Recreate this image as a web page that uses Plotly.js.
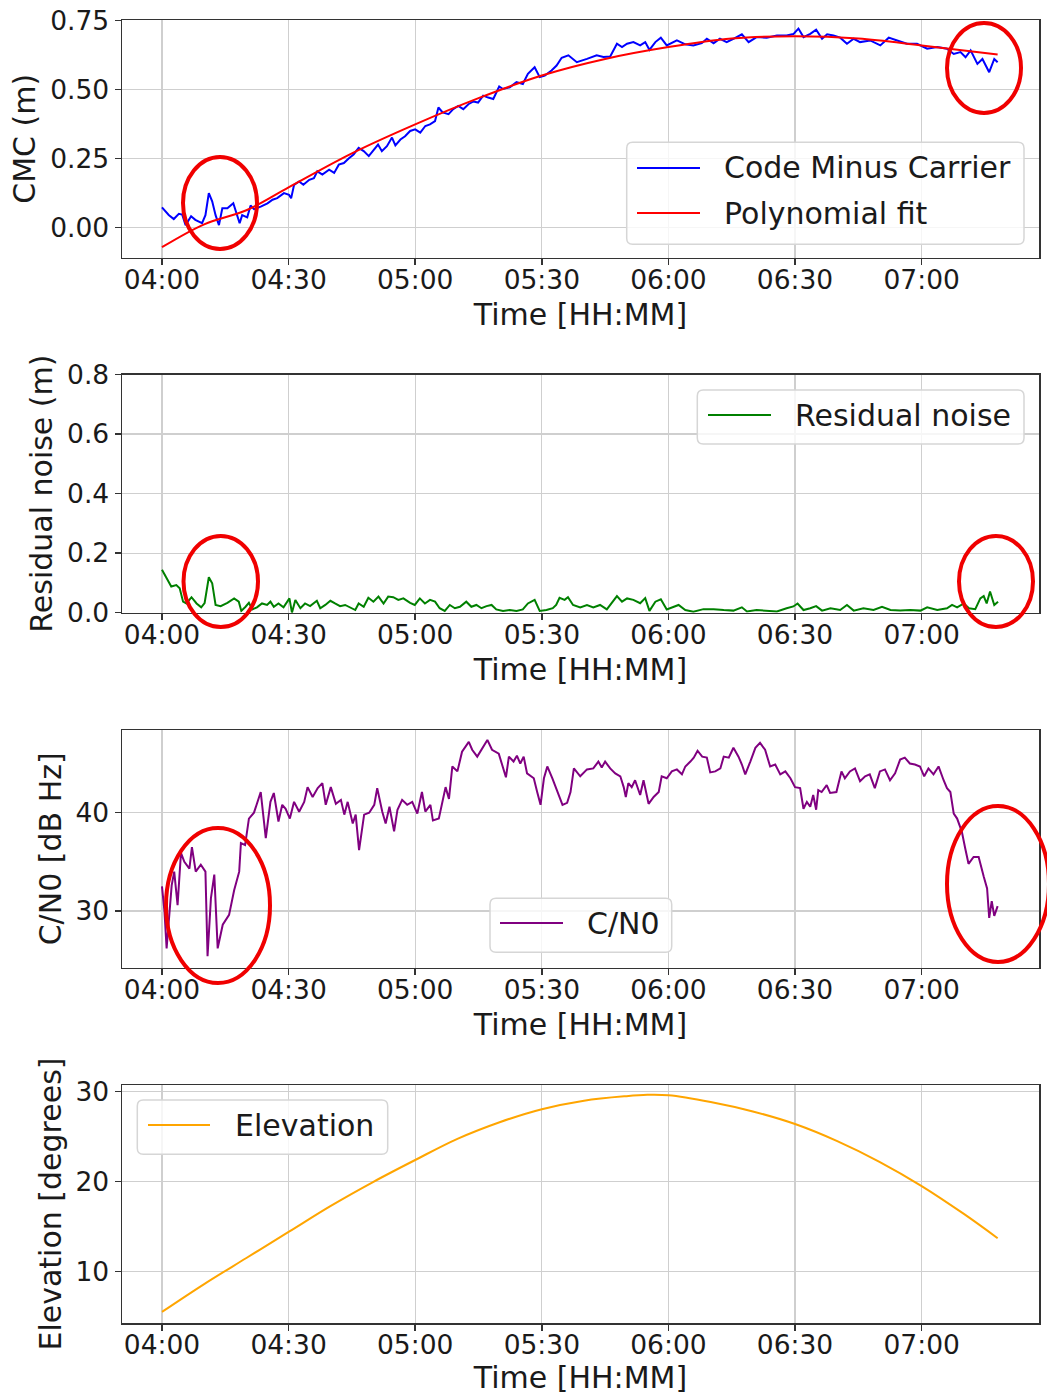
<!DOCTYPE html>
<html><head><meta charset="utf-8">
<script src="https://cdn.plot.ly/plotly-3.0.1.min.js"></script>
<style>body{margin:0;background:#fff}#chart{width:1047px;height:1395px}</style>
</head><body><div id="chart"></div>
<script>
// time in minutes after 04:00
const tickVals = [0, 30, 60, 90, 120, 150, 180];
const tickText = ['04:00', '04:30', '05:00', '05:30', '06:00', '06:30', '07:00'];

const cmcT = [0,1.6,2.8,4,4.8,5.6,6.9,7.9,9.5,10.3,11.1,11.9,12.7,13.5,14.3,15.5,16.9,17.5,18.4,19,20.2,21,21.8,23.4,25,26.2,27.3,28.9,30.1,30.6,31.3,32.5,33.5,34.9,36,36.8,38,39.6,40.8,41.9,43.1,44.3,45.4,46.6,47.8,49,50.2,51.2,52.1,53.3,54.5,55.3,56.5,57.6,58.8,60,61.2,62.4,63.5,64.7,65.5,66.5,67.9,69,70.2,71.4,72.6,73.8,74.9,76.1,77.3,78.5,79.9,80.8,82.4,84,85.5,86.7,88.3,89.5,90.7,92.3,93.5,94.7,96.3,98.3,100.7,103,104.6,106.2,107.8,109,110.2,111.7,113.3,114.5,115.5,116.9,118.2,119.6,122,124,125.9,127.9,129.1,130.7,132.2,133.8,135.4,137.4,139,140.9,143.3,145.7,148,149.6,150.8,152,153.6,155,156.4,157.6,159.1,160.7,162.3,163.9,165.4,167.8,170.2,172.2,174.2,176.5,178.9,181.3,183.7,186,187.6,189.2,190.4,191.6,193.2,194.4,196,197.2,198];
const cmcV = [0.072,0.045,0.03,0.049,0.046,0.008,0.04,0.027,0.015,0.044,0.124,0.094,0.044,0.008,0.069,0.069,0.087,0.057,0.015,0.044,0.036,0.079,0.066,0.075,0.087,0.1,0.106,0.124,0.118,0.105,0.154,0.166,0.154,0.172,0.178,0.203,0.191,0.209,0.197,0.227,0.233,0.25,0.264,0.288,0.276,0.258,0.282,0.3,0.276,0.294,0.325,0.297,0.318,0.33,0.349,0.355,0.343,0.367,0.373,0.385,0.434,0.416,0.41,0.428,0.44,0.428,0.446,0.456,0.452,0.477,0.47,0.465,0.51,0.501,0.507,0.526,0.519,0.556,0.58,0.544,0.55,0.568,0.586,0.614,0.623,0.598,0.61,0.623,0.617,0.619,0.665,0.653,0.665,0.671,0.659,0.671,0.643,0.671,0.687,0.659,0.677,0.663,0.659,0.667,0.683,0.667,0.683,0.671,0.683,0.699,0.671,0.689,0.687,0.695,0.695,0.7,0.72,0.689,0.701,0.716,0.683,0.699,0.695,0.687,0.665,0.683,0.671,0.677,0.659,0.687,0.677,0.665,0.665,0.647,0.653,0.647,0.628,0.635,0.616,0.641,0.592,0.61,0.562,0.61,0.598];

const fitT = [0,10,20,30,45,60,75,90,105,120,135,150,165,180,198];
const fitV = [-0.072,0.011,0.062,0.145,0.268,0.373,0.468,0.55,0.61,0.653,0.684,0.692,0.684,0.659,0.626];

const resT = [0,1,2.2,3.4,4.2,5,5.8,7,8.2,9.3,10.1,11.1,11.9,12.7,13.9,15.5,17.1,18.2,18.8,19.8,20.6,21.4,22.5,23.7,24.9,25.7,26.5,27.6,28.8,30.2,30.8,31.6,32.8,33.9,35.1,36.7,37.5,38.7,39.9,41,42.2,43.4,44.6,45.8,46.6,47.8,48.9,50.1,51.3,52.5,53.6,54.8,56,57.2,58.8,59.9,61.1,62.3,63.5,64.7,65.8,67,68.2,69.4,70.6,72.1,73.3,74.5,75.7,76.9,78.1,79.2,80.8,82.4,84,85.5,86.7,88.3,89.5,91.1,92.6,93.4,94.2,95.4,96.2,97.4,99.1,100.7,102.2,103.8,105.4,106.6,107.8,109,110.2,111.7,113.3,114.5,115.5,116.9,118.2,119.6,121.2,122.4,124,125.9,128.3,130.7,133.1,135.4,137.4,138.6,140.9,143.3,145.7,148,149.6,150.6,152,153.6,155,156.4,158.4,160.7,162.3,163.9,166.2,168.6,170.6,172.6,174.9,177.3,179.7,181.3,183.7,186,187.2,188.4,190,191.2,192.7,193.9,194.7,195.4,196.2,197.2,198.1];
const resV = [0.144,0.116,0.088,0.093,0.082,0.037,0.031,0.052,0.031,0.018,0.032,0.119,0.099,0.026,0.022,0.033,0.048,0.037,0.006,0.02,0.033,0.011,0.018,0.031,0.026,0.037,0.02,0.031,0.018,0.048,0.0,0.043,0.015,0.031,0.022,0.04,0.015,0.026,0.04,0.031,0.022,0.026,0.018,0.009,0.031,0.02,0.05,0.037,0.054,0.031,0.054,0.052,0.043,0.048,0.033,0.026,0.048,0.031,0.043,0.037,0.015,0.006,0.026,0.015,0.02,0.037,0.02,0.026,0.015,0.022,0.026,0.011,0.006,0.009,0.006,0.011,0.031,0.043,0.006,0.009,0.015,0.026,0.05,0.043,0.052,0.026,0.018,0.026,0.018,0.026,0.011,0.032,0.056,0.037,0.048,0.043,0.032,0.049,0.006,0.037,0.045,0.011,0.02,0.026,0.009,0.003,0.012,0.012,0.009,0.007,0.018,0.004,0.009,0.007,0.004,0.015,0.021,0.031,0.009,0.015,0.022,0.007,0.015,0.009,0.026,0.007,0.015,0.009,0.02,0.009,0.007,0.009,0.007,0.018,0.009,0.015,0.026,0.018,0.031,0.015,0.012,0.048,0.056,0.031,0.071,0.026,0.037];

const cnT = [0,0.6,1.1,1.7,2.3,2.9,3.7,4.5,5.3,6.5,7.1,8,9.2,10.3,10.8,11.6,12.4,13.2,14.4,15.9,17.1,18.3,18.7,19.7,20.6,21.8,23.4,24.6,25.7,26.5,27.6,28.5,29.3,30.3,31.3,32.5,33.7,34.5,35.7,36.9,38,38.8,40,41.2,42.4,43.2,44,45.2,45.9,46.7,47.9,49.1,50.3,51,52.2,53,53.9,55,55.8,56.9,58.1,59.3,60.5,61.6,62.4,63.6,64.2,65.6,66.4,67.2,68,68.8,70,71.1,72.7,73.5,74.7,75.9,77.1,78.2,79.8,81.5,82.2,83.3,84.1,84.9,85.7,86.5,88.1,88.9,89.7,90.5,91.3,92.5,93.7,94.9,96,96.8,97.6,99.1,100.7,102.2,103.4,104.2,105,106.2,107.4,108.6,109.4,109.9,110.5,111.3,112.1,113.3,114.1,115.3,116.5,117.7,118.4,119.6,120.8,122,123.2,124,125.2,126,126.9,128,129.1,129.9,131.1,132.3,133.1,134.3,135.4,136.6,137.4,138.2,139.4,140.6,141.7,142.9,144.1,145.3,146.5,147.7,148.9,150,151.2,152,152.8,153.6,154.3,155,155.5,156.3,157.5,158.3,159.8,161,161.8,163,164.2,165.4,166.6,167.7,168.9,170.1,171.3,172.5,173.7,174.9,176,177.2,178.4,179.6,180.6,181.6,182.8,184,185.2,186,186.8,187.6,188.4,189.5,190.3,191.1,192.3,193.5,194.7,195.5,196,196.6,197.2,198];
const cnV = [32.5,29.9,26.2,29.9,32.6,34,30.6,35.9,35,34.3,36.5,34,34.7,34,25.4,31.3,33.7,26.2,28.6,29.6,32.1,34,36.9,36.7,39.4,40,42.1,37.4,41.1,42,39.1,40.8,40.4,39.4,41.1,40.1,41.1,42.6,41.6,42.5,43,40.8,42.6,40.9,41.3,39.8,41.1,38.9,39.8,36.2,39.8,40,40.8,42.5,40.1,38.9,40.6,38.1,40.3,41.3,40.8,41.1,39.9,42.1,40.1,40.8,39.2,39.4,41,42.6,41.4,44.7,44.2,46.2,47.2,46.4,45.7,46.6,47.4,46.4,46,43.6,45.7,45.2,45.8,45,45.7,44,43.5,42.1,40.8,43.5,44.7,43.5,42.1,40.8,41,42.1,44.5,43.7,44.4,44.5,45.2,44.6,45.2,44.5,44,43.7,42.6,41.6,43,42.6,43.3,41.8,43.3,40.9,41.6,42.1,43.7,43.5,44.2,44.4,43.9,44.7,45.2,45.6,46.3,45.7,45.6,44.1,44.2,44.5,45.7,45.6,46.6,45.7,44.9,43.9,45.2,46.6,47.1,46.4,44.7,44.9,43.9,44.2,43.5,42.6,42.5,40.4,41.1,40.6,41.8,40.3,42.3,42.1,42.8,42,42.1,44.2,43.5,44.2,44.5,43.2,43.7,43.9,42.5,44.2,44.4,43.3,44,45.4,45.6,45,44.9,44.7,43.7,44.5,43.9,44.7,43.3,42.5,42.1,39.9,39.4,38.1,36.4,34.8,35.5,35.5,33.5,32.3,29.3,31,29.5,30.5];

const elT = [0,10,20,30,40,50,60,70,80,90,100,110,115,120,130,140,150,160,170,180,190,198];
const elV = [5.5,8.6,11.5,14.4,17.3,19.95,22.4,24.75,26.6,28.05,29.0,29.5,29.65,29.6,28.85,27.8,26.4,24.5,22.2,19.5,16.4,13.7];

// ---------- layout helpers (pixel -> paper) ----------
const W = 1047, H = 1395;
const M = {l: 122, r: 8, t: 20, b: 72};
const PW = W - M.l - M.r, PH = H - M.t - M.b;
const fx = p => (p - M.l) / PW;
const fy = p => (H - M.b - p) / PH;
const FONT = 'DejaVu Sans, Verdana, sans-serif';
const TXT = '#1a1a1a';

function xAxis(anchor) {
  return {
    anchor: anchor, domain: [0, 1], range: [-9.47, 207.8],
    tickmode: 'array', tickvals: tickVals, ticktext: tickText,
    showgrid: true, gridcolor: '#cfcfcf', gridwidth: 1.3, zeroline: false,
    showline: true, mirror: true, linecolor: '#333', linewidth: 1.5,
    ticks: 'outside', ticklen: 6, tickwidth: 1.5, tickcolor: '#333',
    ticklabelstandoff: -8,
    tickfont: {size: 26.5, color: TXT, family: FONT},
    title: {text: 'Time [HH:MM]', font: {size: 30, color: TXT, family: FONT}, standoff: 10}
  };
}
function yAxis(anchor, domTop, domBot, range, vals, fmt, title) {
  return {
    anchor: anchor, domain: [fy(domBot), fy(domTop)], range: range,
    tickmode: 'array', tickvals: vals, tickformat: fmt,
    showgrid: true, gridcolor: '#cfcfcf', gridwidth: 1.3, zeroline: false,
    showline: true, mirror: true, linecolor: '#333', linewidth: 1.5,
    ticks: 'outside', ticklen: 6, tickwidth: 1.5, tickcolor: '#333',
    tickfont: {size: 26.5, color: TXT, family: FONT},
    title: {text: title, font: {size: 30, color: TXT, family: FONT}, standoff: 5}
  };
}
function ellipse(x0, x1, y0, y1) {
  return {type: 'circle', xref: 'paper', yref: 'paper',
    x0: fx(x0), x1: fx(x1), y0: fy(y1), y1: fy(y0),
    line: {color: '#f00000', width: 4}, fillcolor: 'rgba(0,0,0,0)', layer: 'above'};
}
function rrect(x0, y0, x1, y1, r) {
  const P = (x, y) => fx(x) + ',' + fy(y);
  const path = 'M' + P(x0 + r, y0) + ' L' + P(x1 - r, y0) + ' Q' + P(x1, y0) + ' ' + P(x1, y0 + r) +
    ' L' + P(x1, y1 - r) + ' Q' + P(x1, y1) + ' ' + P(x1 - r, y1) +
    ' L' + P(x0 + r, y1) + ' Q' + P(x0, y1) + ' ' + P(x0, y1 - r) +
    ' L' + P(x0, y0 + r) + ' Q' + P(x0, y0) + ' ' + P(x0 + r, y0) + ' Z';
  return {type: 'path', xref: 'paper', yref: 'paper', path: path,
    fillcolor: 'rgba(255,255,255,0.8)', line: {color: '#d6d6d6', width: 1.5}, layer: 'above'};
}
function legLine(x0, x1, y, color) {
  return {type: 'line', xref: 'paper', yref: 'paper', x0: fx(x0), x1: fx(x1), y0: fy(y), y1: fy(y),
    line: {color: color, width: 2}, layer: 'above'};
}
function legText(x, y, text) {
  return {xref: 'paper', yref: 'paper', x: fx(x), y: fy(y), xanchor: 'left', yanchor: 'middle',
    text: text, showarrow: false, borderpad: 0, font: {size: 30, color: TXT, family: FONT}};
}

const traces = [
  {x: cmcT, y: cmcV, type: 'scatter', mode: 'lines', name: 'Code Minus Carrier',
   line: {color: '#0000ff', width: 2}, xaxis: 'x', yaxis: 'y'},
  {x: fitT, y: fitV, type: 'scatter', mode: 'lines', name: 'Polynomial fit',
   line: {color: '#ff0000', width: 2, shape: 'spline'}, xaxis: 'x', yaxis: 'y'},
  {x: resT, y: resV, type: 'scatter', mode: 'lines', name: 'Residual noise',
   line: {color: '#008000', width: 2}, xaxis: 'x2', yaxis: 'y2'},
  {x: cnT, y: cnV, type: 'scatter', mode: 'lines', name: 'C/N0',
   line: {color: '#800080', width: 2}, xaxis: 'x3', yaxis: 'y3'},
  {x: elT, y: elV, type: 'scatter', mode: 'lines', name: 'Elevation',
   line: {color: '#ffa500', width: 2, shape: 'spline'}, xaxis: 'x4', yaxis: 'y4'}
];

const layout = {
  width: W, height: H, margin: M, paper_bgcolor: '#fff', plot_bgcolor: '#fff',
  font: {family: FONT, color: TXT}, showlegend: false,
  xaxis: xAxis('y'), xaxis2: xAxis('y2'), xaxis3: xAxis('y3'), xaxis4: xAxis('y4'),
  yaxis: yAxis('x', 20, 257.7, [-0.110, 0.751], [0, 0.25, 0.5, 0.75], '.2f', 'CMC (m)'),
  yaxis2: yAxis('x2', 374.5, 612.7, [0, 0.8], [0, 0.2, 0.4, 0.6, 0.8], '.1f', 'Residual noise (m)'),
  yaxis3: yAxis('x3', 730, 967.7, [24.23, 48.41], [30, 40], 'd', 'C/N0 [dB Hz]'),
  yaxis4: yAxis('x4', 1085, 1323, [4.27, 30.74], [10, 20, 30], 'd', 'Elevation [degrees]'),
  shapes: [
    ellipse(183, 257, 157, 249),
    ellipse(947, 1021, 23, 113),
    ellipse(183.5, 258, 536, 627),
    ellipse(959, 1033, 536, 627),
    ellipse(166, 270, 828, 983),
    ellipse(947, 1049, 806, 962),
    // legend boxes and keys
    rrect(626.7, 142.3, 1024, 244.3, 6),
    legLine(637, 700, 168, '#0000ff'),
    legLine(637, 700, 213, '#ff0000'),
    rrect(697.3, 390, 1024, 444, 6),
    legLine(708, 771, 415, '#008000'),
    rrect(490, 898.3, 671.7, 952.3, 6),
    legLine(500, 563, 923, '#800080'),
    rrect(137.3, 1100, 387.7, 1154.3, 6),
    legLine(148, 210, 1125, '#ffa500')
  ],
  annotations: [
    legText(723, 168, traces[0].name),
    legText(723, 213, traces[1].name),
    legText(794, 415, traces[2].name),
    legText(586, 923, traces[3].name),
    legText(234, 1125, traces[4].name)
  ]
};

Plotly.newPlot('chart', traces, layout, {displayModeBar: false, staticPlot: true});
</script>
</body></html>
